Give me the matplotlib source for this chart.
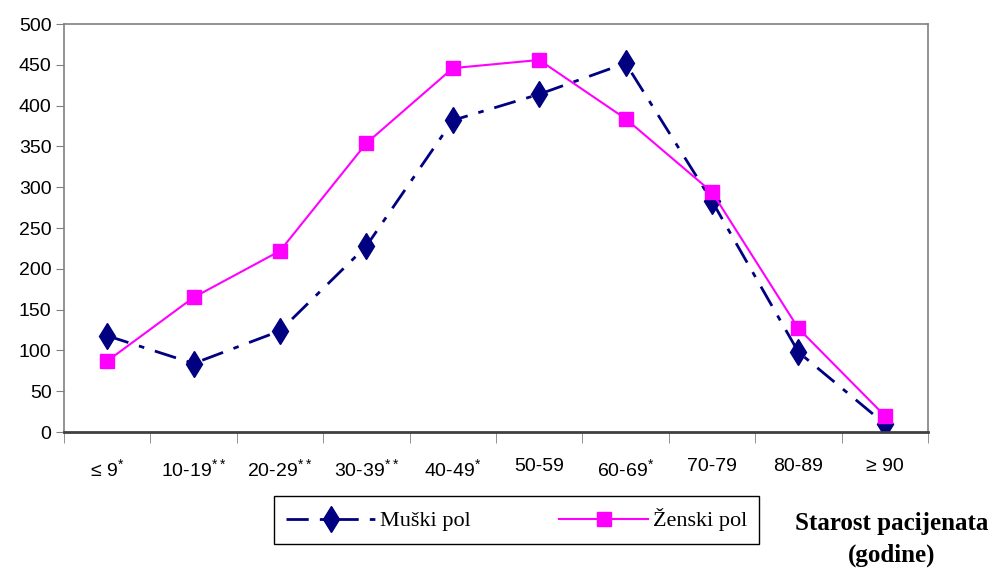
import numpy as np
import matplotlib.pyplot as plt
from matplotlib.lines import Line2D

age_groups = ['≤ 9$^{*}$', '10-19$^{**}$', '20-29$^{**}$', '30-39$^{**}$', '40-49$^{*}$',
              '50-59', '60-69$^{*}$', '70-79', '80-89', '≥ 90']
muski = [118, 84, 124, 228, 382, 414, 452, 283, 98, 10]
zenski = [87, 165, 222, 354, 446, 456, 384, 294, 127, 20]

plt.rcParams['font.family'] = ['Liberation Sans', 'DejaVu Sans']
plt.rcParams['mathtext.fontset'] = 'custom'
plt.rcParams['mathtext.rm'] = 'Liberation Sans'

fig = plt.figure(figsize=(9.94, 5.73), dpi=100)
ax = fig.add_axes([0.0644, 0.246, 0.8692, 0.712])

x = np.arange(len(age_groups))
ax.plot(x, muski, color='#000080', linestyle=(0, (8, 4, 2, 4)), linewidth=2,
        marker='d', markersize=13, label='Muški pol')
ax.plot(x, zenski, color='#FF00FF', linestyle='-', linewidth=1.5,
        marker='s', markersize=10, label='Ženski pol')

ax.set_xlim(-0.5, len(age_groups) - 0.5)
ax.set_ylim(0, 500)
ax.set_yticks(range(0, 501, 50))
ax.set_xticks(x)
ax.set_xticklabels(age_groups, fontsize=14)
ax.set_xticks(np.arange(-0.5, len(age_groups)), minor=True)
ax.tick_params(axis='x', which='major', length=0, pad=19)
ax.tick_params(axis='x', which='minor', length=8, color='#808080')
ax.tick_params(axis='y', length=6, color='#808080', labelsize=14, pad=3)
for s in ax.spines.values():
    s.set_color('#808080')
    s.set_linewidth(1.2)
ax.spines['bottom'].set_color('#404040')
ax.spines['bottom'].set_linewidth(2)

handles = [Line2D([], [], color='#000080', linestyle=(0, (8, 4, 2, 4)), linewidth=2,
                  marker='d', markersize=13),
           Line2D([], [], color='#FF00FF', linestyle='-', linewidth=1.5,
                  marker='s', markersize=10)]
leg = fig.legend(handles, ['Muški pol', 'Ženski pol'], ncol=2,
                 loc='center', bbox_to_anchor=(0.5196, 0.0925),
                 prop={'family': 'Liberation Serif', 'size': 16},
                 frameon=True, fancybox=False, edgecolor='black', framealpha=1,
                 handlelength=4, columnspacing=4, handletextpad=0.2,
                 borderpad=0.55, borderaxespad=0)
leg.get_frame().set_linewidth(1)

fig.text(0.897, 0.087, 'Starost pacijenata', ha='center', va='center',
         fontsize=18, fontweight='bold', family='Liberation Serif')
fig.text(0.897, 0.031, '(godine)', ha='center', va='center',
         fontsize=18, fontweight='bold', family='Liberation Serif')

fig.savefig('out.png', dpi=100)
